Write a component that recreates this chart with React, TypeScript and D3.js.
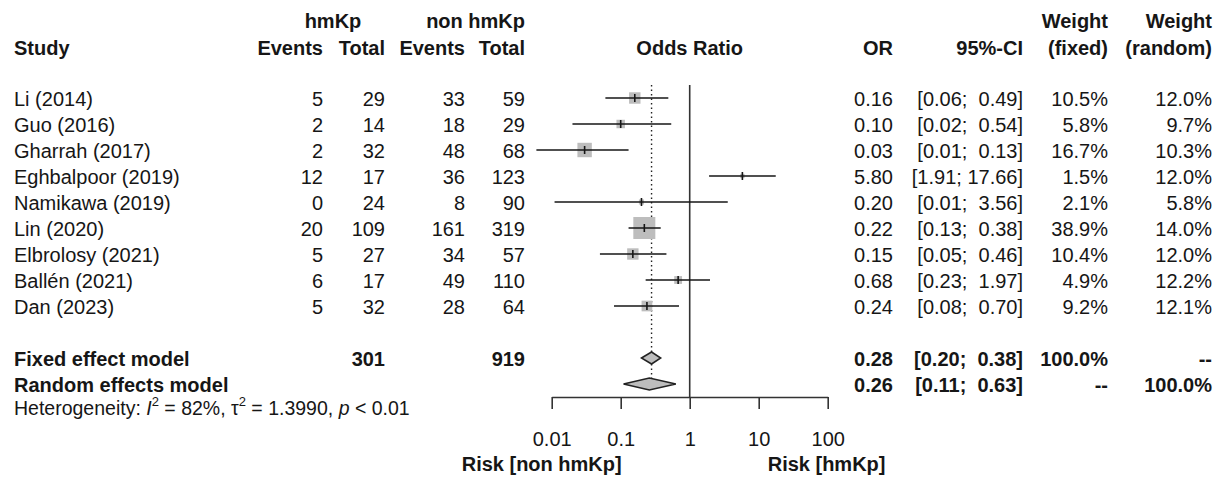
import { useEffect, useRef } from "react";
import * as d3 from "d3";

const STUDIES = [
  "Li (2014)",
  "Guo (2016)",
  "Gharrah (2017)",
  "Eghbalpoor (2019)",
  "Namikawa (2019)",
  "Lin (2020)",
  "Elbrolosy (2021)",
  "Ballén (2021)",
  "Dan (2023)",
];
const EVENTS_HM = [5, 2, 2, 12, 0, 20, 5, 6, 5];
const TOTAL_HM = [29, 14, 32, 17, 24, 109, 27, 17, 32];
const EVENTS_NON = [33, 18, 48, 36, 8, 161, 34, 49, 28];
const TOTAL_NON = [59, 29, 68, 123, 90, 319, 57, 110, 64];
const OR = [0.16, 0.1, 0.03, 5.8, 0.2, 0.22, 0.15, 0.68, 0.24];
const CI_LO = [0.06, 0.02, 0.006, 1.91, 0.011, 0.13, 0.05, 0.23, 0.08];
const CI_HI = [0.49, 0.54, 0.13, 17.66, 3.56, 0.38, 0.46, 1.97, 0.7];
const W_FIXED = [10.5, 5.8, 16.7, 1.5, 2.1, 38.9, 10.4, 4.9, 9.2];
const W_RANDOM = [12.0, 9.7, 10.3, 12.0, 5.8, 14.0, 12.0, 12.2, 12.1];

const POOLED = ["Fixed effect model", "Random effects model"];
const POOLED_OR = [0.28, 0.26];
const POOLED_LO = [0.2, 0.11];
const POOLED_HI = [0.38, 0.63];
const POOLED_W_FIXED = ["100.0%", "--"];
const POOLED_W_RANDOM = ["--", "100.0%"];
const TOTALS = [301, 919];

const TICKS = [0.01, 0.1, 1, 10, 100];

const W = 1222, H = 488;
const FONT = "'Liberation Sans', Arial, Helvetica, sans-serif";
const INK = "#161616";
const BOX = "#bdbdbd";

export default function App() {
  const ref = useRef<SVGSVGElement>(null);
  useEffect(() => {
    const el = ref.current;
    if (!el) return;
    const svg = d3.select(el);
    svg.selectAll("*").remove();

    const x = d3.scaleLog().domain([0.01, 100]).range([551.7, 827.7]);
    const row = d3.scaleLinear().domain([0, 1]).range([98, 124]);
    const box = d3.scaleSqrt().domain([0, d3.max(W_FIXED)!]).range([0, 22]);
    const axisY = 397;

    const txt = (s: string, tx: number, ty: number, anchor = "end", bold = false) =>
      svg.append("text").attr("x", tx).attr("y", ty).attr("text-anchor", anchor)
        .attr("font-family", FONT).attr("font-size", 20).attr("font-weight", bold ? "bold" : "normal")
        .attr("fill", INK).style("white-space", "pre").text(s);

    // headers
    txt("hmKp", 333, 28, "middle", true);
    txt("non hmKp", 525, 28, "end", true);
    txt("Weight", 1108, 28, "end", true);
    txt("Weight", 1212, 28, "end", true);
    txt("Study", 14, 55, "start", true);
    txt("Events", 323, 55, "end", true);
    txt("Total", 385, 55, "end", true);
    txt("Events", 465, 55, "end", true);
    txt("Total", 525, 55, "end", true);
    txt("Odds Ratio", x(1), 55, "middle", true);
    txt("OR", 893, 55, "end", true);
    txt("95%-CI", 1023, 55, "end", true);
    txt("(fixed)", 1108, 55, "end", true);
    txt("(random)", 1212, 55, "end", true);

    const hiWidth = d3.max([...CI_HI, ...POOLED_HI].map((v) => v.toFixed(2).length))!;
    const ci = (lo: number, hi: number) => `[${lo.toFixed(2)}; ${hi.toFixed(2).padStart(hiWidth, " ")}]`;

    // reference lines
    const lastY = row(POOLED.length + STUDIES.length);
    svg.append("line").attr("x1", x(1)).attr("x2", x(1)).attr("y1", 85).attr("y2", axisY)
      .attr("stroke", "#333").attr("stroke-width", 1.6);
    svg.append("line").attr("x1", x(POOLED_OR[0])).attr("x2", x(POOLED_OR[0])).attr("y1", 85).attr("y2", lastY - 6)
      .attr("stroke", "#222").attr("stroke-width", 1.4).attr("stroke-dasharray", "1.5,3");

    // studies
    STUDIES.forEach((s, i) => {
      const y = row(i);
      const b = y + 8;
      txt(s, 14, b, "start");
      txt(String(EVENTS_HM[i]), 323, b);
      txt(String(TOTAL_HM[i]), 385, b);
      txt(String(EVENTS_NON[i]), 465, b);
      txt(String(TOTAL_NON[i]), 525, b);
      txt(OR[i].toFixed(2), 893, b);
      txt(ci(CI_LO[i], CI_HI[i]), 1023, b);
      txt(W_FIXED[i].toFixed(1) + "%", 1108, b);
      txt(W_RANDOM[i].toFixed(1) + "%", 1212, b);

      const sz = box(W_FIXED[i]);
      svg.append("rect").attr("x", x(OR[i]) - sz / 2).attr("y", y - sz / 2).attr("width", sz).attr("height", sz).attr("fill", BOX);
      svg.append("line").attr("x1", x(CI_LO[i])).attr("x2", x(CI_HI[i])).attr("y1", y).attr("y2", y).attr("stroke", INK).attr("stroke-width", 1.6);
      svg.append("line").attr("x1", x(OR[i])).attr("x2", x(OR[i])).attr("y1", y - 4).attr("y2", y + 4).attr("stroke", INK).attr("stroke-width", 1.6);
    });

    // pooled rows
    POOLED.forEach((s, k) => {
      const y = row(STUDIES.length + 1 + k);
      const b = y + 8;
      txt(s, 14, b, "start", true);
      if (k === 0) {
        txt(String(TOTALS[0]), 385, b, "end", true);
        txt(String(TOTALS[1]), 525, b, "end", true);
      }
      txt(POOLED_OR[k].toFixed(2), 893, b, "end", true);
      txt(ci(POOLED_LO[k], POOLED_HI[k]), 1023, b, "end", true);
      txt(POOLED_W_FIXED[k], 1108, b, "end", true);
      txt(POOLED_W_RANDOM[k], 1212, b, "end", true);
      const h = 6;
      const pts = [[x(POOLED_LO[k]), y], [x(POOLED_OR[k]), y - h], [x(POOLED_HI[k]), y], [x(POOLED_OR[k]), y + h]];
      svg.append("path").attr("d", "M" + pts.map((p) => p.join(",")).join("L") + "Z")
        .attr("fill", BOX).attr("stroke", "#222").attr("stroke-width", 1.5);
    });

    // heterogeneity
    const hb = row(STUDIES.length + 3) + 5;
    const het = svg.append("text").attr("x", 14).attr("y", hb).attr("font-family", FONT).attr("font-size", 19.5).attr("fill", INK).style("white-space", "pre");
    het.append("tspan").text("Heterogeneity: ");
    het.append("tspan").attr("font-style", "italic").text("I");
    het.append("tspan").attr("font-size", 13).attr("dy", -9).text("2");
    het.append("tspan").attr("dy", 9).text(" = 82%, \u03c4");
    het.append("tspan").attr("font-size", 13).attr("dy", -9).text("2");
    het.append("tspan").attr("dy", 9).text(" = 1.3990, ");
    het.append("tspan").attr("font-style", "italic").text("p");
    het.append("tspan").text(" < 0.01");

    // axis
    const axis = d3.axisBottom(x).tickValues(TICKS).tickFormat((d) => String(d)).tickSize(12).tickSizeOuter(0).tickPadding(23);
    const g = svg.append("g").attr("transform", `translate(0,${axisY})`).call(axis);
    g.selectAll("path, line").attr("stroke", "#333").attr("stroke-width", 1.6);
    g.selectAll("text").attr("font-family", FONT).attr("font-size", 20).attr("fill", INK);

    txt("Risk [non hmKp]", x(0.1) + 1, 471, "end", true);
    txt("Risk [hmKp]", x(10) + 9, 471, "start", true);
  }, []);
  return (
    <svg ref={ref} width={W} height={H} style={{ position: "absolute", left: 0, top: 0, background: "#fff" }} />
  );
}
